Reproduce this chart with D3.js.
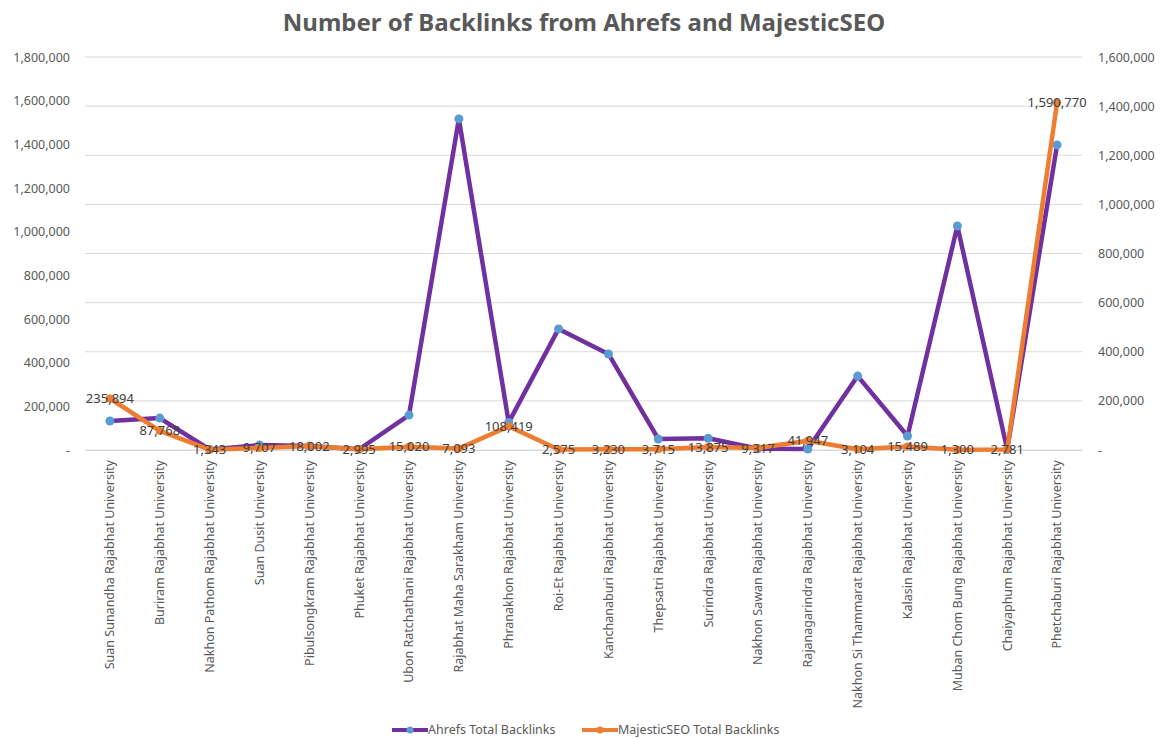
<!DOCTYPE html>
<html><head><meta charset="utf-8">
<script src="https://cdn.jsdelivr.net/npm/d3@7"></script>
<style>body{margin:0;background:#fff;} text{font-family:"Noto Sans","Open Sans",sans-serif;}</style>
</head><body>
<svg id="c" width="1162" height="738"></svg>
<script>
const categories = ["Suan Sunandha Rajabhat University","Buriram Rajabhat University","Nakhon Pathom Rajabhat University","Suan Dusit University","Pibulsongkram Rajabhat University","Phuket Rajabhat University","Ubon Ratchathani Rajabhat University","Rajabhat Maha Sarakham University","Phranakhon Rajabhat University","Roi-Et Rajabhat University","Kanchanaburi Rajabhat University","Thepsatri Rajabhat University","Surindra Rajabhat University","Nakhon Sawan Rajabhat University","Rajanagarindra Rajabhat University","Nakhon Si Thammarat Rajabhat University","Kalasin Rajabhat University","Muban Chom Bung Rajabhat University","Chaiyaphum Rajabhat University","Phetchaburi Rajabhat University"];
const ahrefs = [118000,130000,2000,20000,16000,3000,142000,1348000,112000,493000,391000,45000,48000,5000,4000,301000,57000,912000,2000,1242000];
const majestic = [235894,87768,1343,9707,18002,2995,15020,7093,108419,2575,3230,3715,13875,9317,41947,3104,15489,1300,2781,1590770];
const leftTicks = [0,200000,400000,600000,800000,1000000,1200000,1400000,1600000,1800000];
const rightTicks = [0,200000,400000,600000,800000,1000000,1200000,1400000,1600000];
const title = "Number of Backlinks from Ahrefs and MajesticSEO";
const seriesNames = ["Ahrefs Total Backlinks","MajesticSEO Total Backlinks"];

const svg = d3.select("#c");
const L = 85, R = 1082, T = 57, B = 450;
const x = d3.scaleBand().domain(categories).range([L, R]);
const yL = d3.scaleLinear().domain([0, 1800000]).range([B, T]);
const yR = d3.scaleLinear().domain([0, 1600000]).range([B, T]);
const cx = d => x(d) + x.bandwidth()/2;
const fmt = v => v === 0 ? "-" : d3.format(",")(v);
const grey = "#595959";

svg.append("text").attr("x", 584).attr("y", 31).attr("text-anchor","middle")
  .attr("font-size", 24).attr("font-weight","bold").attr("fill", grey).text(title);

// gridlines (secondary axis)
svg.append("g").selectAll("line").data(rightTicks).join("line")
  .attr("x1", L).attr("x2", R).attr("y1", d=>yR(d)).attr("y2", d=>yR(d))
  .attr("stroke", "#d9d9d9").attr("stroke-width", 1);

// left axis
const gl = svg.append("g").attr("transform", `translate(${L},0)`)
  .call(d3.axisLeft(yL).tickValues(leftTicks).tickFormat(fmt).tickSize(0).tickPadding(15));
gl.select(".domain").remove();
gl.selectAll("text").attr("font-size", 12.5).attr("fill", grey).style("font-family","'Noto Sans',sans-serif");

// right axis
const gr = svg.append("g").attr("transform", `translate(${R},0)`)
  .call(d3.axisRight(yR).tickValues(rightTicks).tickFormat(fmt).tickSize(0).tickPadding(16));
gr.select(".domain").remove();
gr.selectAll("text").attr("font-size", 12.5).attr("fill", grey).style("font-family","'Noto Sans',sans-serif");

// x labels
const gx = svg.append("g").attr("transform", `translate(0,${B})`)
  .call(d3.axisBottom(x).tickSize(0).tickPadding(0));
gx.select(".domain").attr("stroke","#d9d9d9");
gx.selectAll("text").attr("font-size", 12.5).attr("fill", grey)
  .style("font-family","'Noto Sans',sans-serif")
  .attr("transform", "rotate(-90)").attr("text-anchor","end")
  .attr("x", -10).attr("y", 0).attr("dy", "0.35em");

// lines
const lineA = d3.line().x((d,i)=>cx(categories[i])).y(d=>yR(d));
const lineM = d3.line().x((d,i)=>cx(categories[i])).y(d=>yL(d));
svg.append("path").datum(ahrefs).attr("d", lineA).attr("fill","none")
  .attr("stroke","#7030A0").attr("stroke-width",4.5).attr("stroke-linejoin","round");
svg.append("g").selectAll("circle").data(ahrefs).join("circle")
  .attr("cx",(d,i)=>cx(categories[i])).attr("cy",d=>yR(d)).attr("r",4.5).attr("fill","#5B9BD5");
svg.append("path").datum(majestic).attr("d", lineM).attr("fill","none")
  .attr("stroke","#ED7D31").attr("stroke-width",4.5).attr("stroke-linejoin","round");
svg.append("g").selectAll("circle").data(majestic).join("circle")
  .attr("cx",(d,i)=>cx(categories[i])).attr("cy",d=>yL(d)).attr("r",4).attr("fill","#ED7D31");
svg.append("g").selectAll("text").data(majestic).join("text")
  .attr("x",(d,i)=>cx(categories[i])).attr("y",d=>yL(d)).attr("dy","0.35em")
  .attr("text-anchor","middle").attr("font-size",13).attr("fill","#404040").text(d=>d3.format(",")(d));

// legend
const leg = svg.append("g").attr("transform","translate(0,730)");
const items = [{n:seriesNames[0], c:"#7030A0", m:"#5B9BD5", x:392},{n:seriesNames[1], c:"#ED7D31", m:"#ED7D31", x:582}];
items.forEach(it=>{
  leg.append("line").attr("x1",it.x).attr("x2",it.x+36).attr("stroke",it.c).attr("stroke-width",4);
  leg.append("circle").attr("cx",it.x+18).attr("cy",0).attr("r",3.5).attr("fill",it.m);
  leg.append("text").attr("x",it.x+36).attr("y",0).attr("dy","0.35em").attr("font-size",12.5).attr("fill",grey).text(it.n);
});
</script>
</body></html>
